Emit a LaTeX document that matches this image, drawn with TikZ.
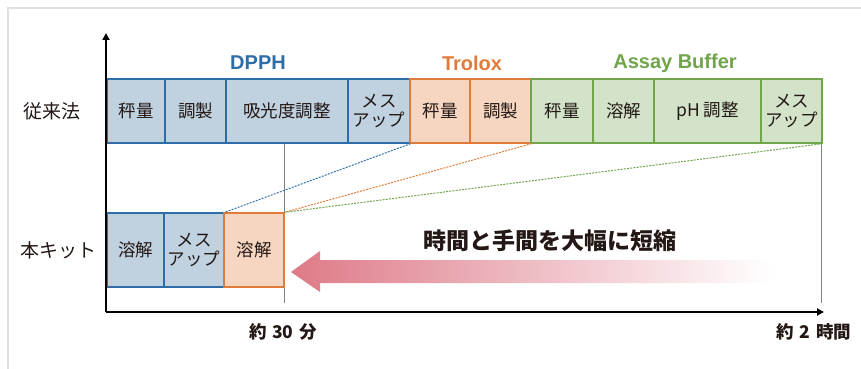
\documentclass[tikz,border=0pt]{standalone}
\usepackage{fontspec}
\setmainfont{Liberation Sans}
\newfontfamily\jp{Noto Sans CJK JP}
\usetikzlibrary{arrows.meta}
\definecolor{dblue}{RGB}{46,110,168}
\definecolor{dbluefill}{RGB}{192,209,224}
\definecolor{torange}{RGB}{224,123,57}
\definecolor{torangefill}{RGB}{246,214,192}
\definecolor{agreen}{RGB}{112,165,76}
\definecolor{agreenfill}{RGB}{211,227,201}
\definecolor{ink}{RGB}{35,24,21}
\definecolor{arrowpink}{RGB}{222,122,136}
\tikzset{
  cell/.style={draw, line width=1.3pt, inner sep=0pt, align=center, font=\jp\fontsize{17.5}{18.5}\selectfont, text=ink},
  dcell/.style={cell, draw=dblue, fill=dbluefill},
  tcell/.style={cell, draw=torange, fill=torangefill},
  acell/.style={cell, draw=agreen, fill=agreenfill},
  toprow/.style={minimum height=64pt},
  botrow/.style={minimum height=74pt},
  title/.style={font=\bfseries\fontsize{20}{22}\selectfont},
  rowlabel/.style={font=\jp\fontsize{19}{20}\selectfont, text=ink},
  timelabel/.style={font=\jp\bfseries\fontsize{17.5}{19}\selectfont, text=ink},
  axis/.style={line width=1.8pt, -{Triangle[length=7pt,width=7pt]}},
  guide/.style={line width=0.9pt, gray},
  link/.style={line width=1pt, dash pattern=on 2pt off 1.2pt},
}
\begin{document}
\begin{tikzpicture}[x=1pt,y=-1pt]
\useasboundingbox (0,0) rectangle (861,369);
% frame
\draw[line width=1.5pt, black!12] (8,369) -- (8,8) -- (861,8);
% axes
\coordinate (O) at (106,312);
\coordinate (Ytop) at (106,33);
\coordinate (Xend) at (824,312);
% guide lines
\draw[guide] (284,143) -- (284,303);
\draw[guide] (821,143) -- (821,303);
% top row
\node[dcell, toprow, minimum width=58pt] (d1) at (136,111) {秤量};
\node[dcell, toprow, minimum width=61pt] (d2) at (195.5,111) {調製};
\node[dcell, toprow, minimum width=122pt] (d3) at (287,111) {吸光度調整};
\node[dcell, toprow, minimum width=62pt] (d4) at (379,111) {メス\\アップ};
\node[tcell, toprow, minimum width=60pt] (t1) at (440,111) {秤量};
\node[tcell, toprow, minimum width=61pt] (t2) at (500.5,111) {調製};
\node[acell, toprow, minimum width=62pt] (a1) at (562,111) {秤量};
\node[acell, toprow, minimum width=61pt] (a2) at (623.5,111) {溶解};
\node[acell, toprow, minimum width=107pt] (a3) at (707.5,111) {pH 調整};
\node[acell, toprow, minimum width=61pt] (a4) at (791.5,111) {メス\\アップ};
% bottom row
\node[dcell, botrow, minimum width=57pt] (k1) at (135.5,250) {溶解};
\node[dcell, botrow, minimum width=60pt] (k2) at (194,250) {メス\\アップ};
\node[tcell, botrow, minimum width=60pt] (k3) at (254,250) {溶解};
% titles
\node[title, text=dblue] (tdpph) at (258,63) {DPPH};
\node[title, text=torange] (ttrolox) at (472,63) {Trolox};
\node[title, text=agreen] (tassay) at (675,63) {Assay Buffer};
% row labels
\node[rowlabel] (lconv) at (52,111) {従来法};
\node[rowlabel] (lkit) at (58,250) {本キット};
% dotted links
\draw[link, dblue] (d4.south east) -- (k2.north east);
\draw[link, torange] (t2.south east) -- (k3.north east);
\draw[link, agreen] (a4.south east) -- (k3.north east);
% axes
\draw[axis] (O) -- (Ytop);
\draw[axis] (O) -- (Xend);
% shortening arrow
\shade[left color=arrowpink, right color=white]
  (291,272) -- (320,251) -- (320,260) -- (772,260) -- (772,283) -- (320,283) -- (320,292) -- cycle;
\node[font=\jp\bfseries\fontsize{23}{25}\selectfont, text=ink] (msg) at (550,241) {時間と手間を大幅に短縮};
% time labels
\node[timelabel] (t30) at (283,332) {約\,\,30\,\,分};
\node[timelabel] (t2h) at (814,332) {約\,\,2\,\,時間};
\end{tikzpicture}
\end{document}
